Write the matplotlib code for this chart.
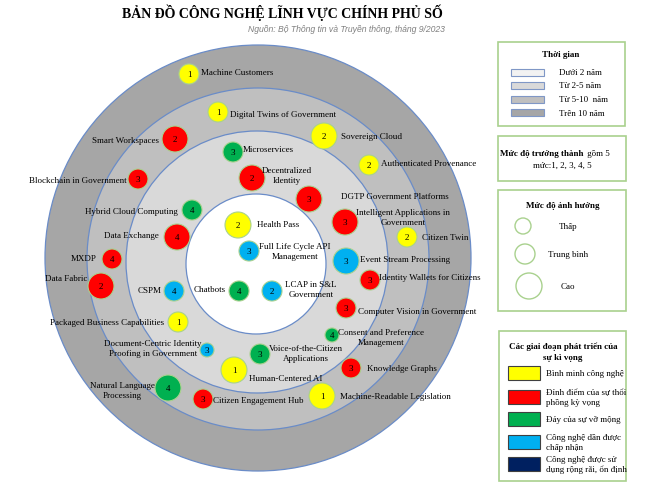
import numpy as np
import matplotlib
matplotlib.use('Agg')
import matplotlib.pyplot as plt
import matplotlib.patches as patches

# ---- data ----
names = ['Machine Customers', 'Digital Twins of Government', 'Smart Workspaces', 'Microservices',
         'Blockchain in Government', 'Decentralized\nIdentity', 'Sovereign Cloud',
         'Authenticated Provenance', 'DGTP Government Platforms',
         'Intelligent Applications in\nGovernment', 'Citizen Twin', 'Hybrid Cloud Computing',
         'Data Exchange', 'MXDP', 'Data Fabric', 'Health Pass', 'Full Life Cycle API\nManagement',
         'Chatbots', 'LCAP in S&L\nGovernment', 'CSPM', 'Event Stream Processing',
         'Identity Wallets for Citizens', 'Computer Vision in Government',
         'Packaged Business Capabilities', 'Consent and Preference\nManagement',
         'Voice-of-the-Citizen\nApplications', 'Document-Centric Identity\nProofing in Government',
         'Human-Centered AI', 'Natural Language\nProcessing', 'Citizen Engagement Hub',
         'Knowledge Graphs', 'Machine-Readable Legislation']
stage = [1, 1, 2, 3, 2, 2, 1, 1, 2, 2, 1, 3, 2, 2, 2, 1, 4, 3, 4, 4, 4, 2, 2, 1, 3, 3, 4, 1, 3, 2, 2, 1]
maturity = [1, 1, 2, 3, 3, 2, 2, 2, 3, 3, 2, 4, 4, 4, 2, 2, 3, 4, 2, 4, 3, 3, 3, 1, 4, 3, 3, 1, 4, 3, 3, 1]
impact = [2, 2, 3, 2, 2, 3, 3, 2, 3, 3, 2, 2, 3, 2, 3, 3, 2, 2, 2, 2, 3, 2, 2, 2, 1, 2, 1, 3, 3, 2, 2, 3]

# layout of the map (pixel positions of the bubbles and their labels)
bx = [189, 218, 175, 233, 138, 252, 324, 369, 309, 345, 407, 192, 177, 112, 101, 238, 249,
      239, 272, 174, 346, 370, 346, 178, 332, 260, 207, 234, 168, 203, 351, 322]
by = [75, 113, 140, 153, 180, 179, 137, 166, 200, 223, 238, 211, 238, 260, 287, 226, 252,
      292, 292, 292, 262, 281, 309, 323, 336, 355, 351, 371, 389, 400, 369, 397]
lx = [201, 230, 159, 243, 127, 287, 341, 381, 341, 403, 422, 178, 159, 97, 87, 257, 295,
      226, 311, 162, 360, 379, 358, 164, 381, 306, 153, 249, 122, 213, 367, 340]
ly = [73, 115, 141, 150, 181, 176, 137, 164, 197, 218, 238, 212, 236, 259, 279, 225, 252,
      290, 290, 291, 260, 278, 312, 323, 338, 354, 349, 379, 391, 401, 369, 397]
lha = ['left', 'left', 'right', 'left', 'right', 'center', 'left', 'left', 'left', 'center',
       'left', 'right', 'right', 'right', 'right', 'left', 'center', 'right', 'center', 'right',
       'left', 'left', 'left', 'right', 'center', 'center', 'center', 'left', 'center', 'left',
       'left', 'left']

time_labels = ['Dưới 2 năm', 'Từ 2-5 năm', 'Từ 5-10  năm', 'Trên 10 năm']
time_colors = ['#F2F2F2', '#D9D9D9', '#BFBFBF', '#A6A6A6']
impact_labels = ['Thấp', 'Trung bình', 'Cao']
stage_labels = ['Bình minh công nghệ', 'Đỉnh điểm của sự thổi\nphồng kỳ vọng', 'Đáy của sự vỡ mộng',
                'Công nghệ dần được\nchấp nhận', 'Công nghệ được sử\ndụng rộng rãi, ổn định']
stage_colors = ['#FFFF00', '#FF0000', '#00B050', '#00B0F0', '#002060']

impact_r = {1: 7, 2: 10, 3: 13}
serif = 'Liberation Serif'
green_edge = '#A9D18E'

fig = plt.figure(figsize=(6.5, 4.85), dpi=100)
ax = fig.add_axes([0, 0, 1, 1])
ax.set_xlim(0, 650)
ax.set_ylim(485, 0)
ax.axis('off')

# rings (outer -> inner), drawn by hand in Word so not perfectly concentric
ring_c = [(258, 259), (258, 260), (257, 263), (256, 265)]
ring_r = [213, 171, 131, 70]
ring_fc = ['#A6A6A6', '#BFBFBF', '#D9D9D9', 'white']
for c, r, fc in zip(ring_c, ring_r, ring_fc):
    ax.add_patch(patches.Circle(c, r, facecolor=fc, edgecolor='#6A8CC8', lw=0.9, zorder=1))

# bubbles
for i in range(len(names)):
    ax.add_patch(patches.Circle((bx[i], by[i]), impact_r[impact[i]], facecolor=stage_colors[stage[i] - 1],
                                edgecolor=green_edge, lw=0.8, zorder=3))
    ax.text(bx[i], by[i], str(maturity[i]), ha='center', va='center', fontsize=6.5,
            family=serif, zorder=4)
    ax.text(lx[i], ly[i], names[i], ha=lha[i], va='center', fontsize=6.5, family=serif,
            linespacing=1.35, multialignment='center', zorder=4)

# title
ax.text(282, 13, 'BẢN ĐỒ CÔNG NGHỆ LĨNH VỰC CHÍNH PHỦ SỐ', ha='center', va='center',
        fontsize=10, fontweight='bold', family=serif)
ax.text(445, 29, 'Nguồn: Bộ Thông tin và Truyền thông, tháng 9/2023', ha='right', va='center',
        fontsize=6.2, style='italic', color='#808080', family='Liberation Sans')

# legend box: time
ax.add_patch(patches.Rectangle((498, 43), 127, 84, facecolor='white', edgecolor=green_edge, lw=1.2))
ax.text(561, 55, 'Thời gian', ha='center', va='center', fontsize=6.5, fontweight='bold', family=serif)
for i, (lab, c) in enumerate(zip(time_labels, time_colors)):
    y = 73 + i * 13.5
    ax.add_patch(patches.Rectangle((511, y - 3.5), 33, 7, facecolor=c, edgecolor='#7F97C6', lw=0.8))
    ax.text(559, y, lab, ha='left', va='center', fontsize=6.5, family=serif)

# legend box: maturity
ax.add_patch(patches.Rectangle((498, 137), 128, 45, facecolor='white', edgecolor=green_edge, lw=1.2))
ax.text(584, 154, 'Mức độ trưởng thành', ha='right', va='center', fontsize=6.5,
        fontweight='bold', family=serif)
ax.text(585, 154, ' gồm 5', ha='left', va='center', fontsize=6.5, family=serif)
ax.text(562, 166, 'mức:1, 2, 3, 4, 5', ha='center', va='center', fontsize=6.5, family=serif)

# legend box: impact
ax.add_patch(patches.Rectangle((498, 191), 128, 121, facecolor='white', edgecolor=green_edge, lw=1.2))
ax.text(563, 206, 'Mức độ ảnh hưởng', ha='center', va='center', fontsize=6.5,
        fontweight='bold', family=serif)
for i, lab in enumerate(impact_labels):
    r = [8, 10, 13][i]
    y = [227, 255, 287][i]
    ax.add_patch(patches.Circle(([523, 525, 529][i], y), r, facecolor='white', edgecolor=green_edge, lw=1))
    ax.text(568, y, lab, ha='center', va='center', fontsize=6.5, family=serif)

# legend box: stages
ax.add_patch(patches.Rectangle((499, 332), 127, 150, facecolor='white', edgecolor=green_edge, lw=1.2))
ax.text(563, 352, 'Các giai đoạn phát triển của\nsự kì vọng', ha='center', va='center',
        fontsize=6.5, fontweight='bold', family=serif, linespacing=1.4)
for i, (lab, c) in enumerate(zip(stage_labels, stage_colors)):
    y = [374, 398, 420, 443, 465][i]
    ax.add_patch(patches.Rectangle((508, y - 7), 32, 14, facecolor=c, edgecolor='#404040', lw=0.8))
    ax.text(546, y, lab, ha='left', va='center', fontsize=6.5, family=serif, linespacing=1.3)

fig.savefig('out.png', dpi=100)
